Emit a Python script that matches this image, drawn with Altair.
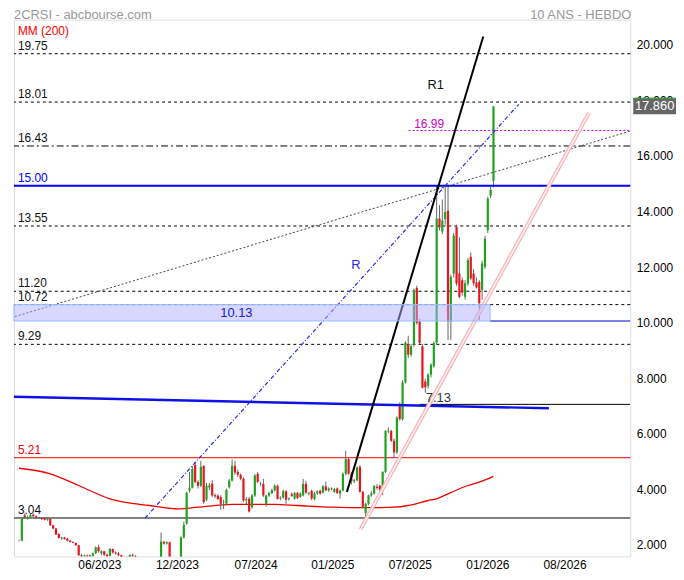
import altair as alt
import pandas as pd

FONT = "Liberation Sans"

# ---------------- data ----------------
first_week = "2022-11-28"          # date of candle k = 0 (weekly candles)

opens = [2.22, 2.22, 3.14, 3.02, 3.08, 3.16, 3.10, 3.04, 3.04, 3.04,
         2.98, 3.01, 2.78, 2.66, 2.46, 2.30, 2.34, 2.29, 2.22, 2.18,
         2.14, 2.06, 1.70, 1.66, 1.69, 1.65, 1.68, 1.78, 2.00, 1.76,
         1.84, 1.72, 1.68, 1.92, 1.80, 1.76, 1.70, 1.62, 1.58, 1.64,
         1.70, 1.66, 1.56, 1.48, 1.42, 1.40, 1.36, 1.32, 1.30, 1.28,
         1.36, 2.18, 2.12, 2.17, 1.55, 1.48, 1.52, 1.58, 2.34, 2.84,
         4.03, 4.13, 4.95, 4.34, 4.20, 4.91, 3.70, 4.14, 4.27, 3.86,
         3.84, 3.80, 3.58, 3.55, 4.15, 4.39, 4.92, 4.70, 4.60, 4.45,
         3.68, 3.73, 3.43, 3.85, 4.63, 4.28, 4.27, 3.55, 3.85, 3.94,
         4.03, 4.20, 3.74, 3.78, 4.00, 3.72, 3.90, 3.74, 3.94, 3.80,
         3.85, 4.27, 3.92, 4.02, 3.72, 3.92, 4.02, 3.96, 4.18, 4.04,
         4.10, 3.98, 4.10, 3.92, 4.03, 4.63, 5.16, 4.63, 4.36, 4.40,
         4.88, 3.98, 3.22, 3.55, 3.85, 3.92, 4.16, 4.20, 4.09, 4.70,
         6.15, 6.17, 5.82, 5.40, 7.06, 6.60, 7.92, 9.28, 8.92, 9.28,
         11.32, 10.11, 9.22, 7.96, 7.79, 8.20, 8.50, 9.35, 13.82, 13.35,
         13.80, 14.10, 10.11, 11.84, 13.51, 11.84, 11.60, 11.00, 11.48, 12.44,
         11.84, 11.52, 11.54, 11.25, 12.08, 13.40, 14.64, 15.18]
highs = [2.26, 3.06, 3.20, 3.12, 3.18, 3.20, 3.14, 3.08, 3.06, 3.06,
         3.03, 3.03, 2.80, 2.68, 2.50, 2.36, 2.36, 2.33, 2.25, 2.20,
         2.16, 2.08, 1.74, 1.72, 1.72, 1.72, 1.80, 2.02, 2.08, 1.88,
         1.86, 1.76, 1.96, 1.94, 1.84, 1.82, 1.72, 1.66, 1.66, 1.74,
         1.76, 1.70, 1.60, 1.52, 1.48, 1.46, 1.42, 1.38, 1.36, 1.40,
         2.52, 2.22, 2.20, 2.19, 1.60, 1.56, 1.62, 2.38, 2.90, 3.98,
         4.70, 4.92, 5.07, 4.40, 5.10, 4.95, 4.30, 4.30, 4.40, 3.92,
         3.90, 3.86, 3.70, 4.10, 4.45, 5.14, 5.10, 4.78, 4.64, 4.50,
         3.80, 3.80, 3.90, 4.62, 4.70, 4.34, 4.45, 3.88, 3.98, 4.10,
         4.25, 4.24, 3.82, 4.06, 4.04, 3.78, 3.96, 3.98, 3.98, 3.96,
         4.45, 4.38, 3.98, 4.06, 3.98, 4.04, 4.06, 4.22, 4.35, 4.14,
         4.14, 4.12, 4.14, 4.05, 4.68, 5.46, 5.22, 4.70, 4.44, 4.90,
         4.95, 4.02, 3.58, 3.88, 4.00, 4.22, 4.26, 4.24, 4.72, 6.20,
         6.30, 6.22, 5.90, 6.70, 7.20, 8.00, 9.40, 9.60, 9.30, 11.30,
         11.40, 10.20, 9.30, 8.05, 8.25, 8.60, 9.40, 15.00, 14.30, 14.50,
         15.00, 15.00, 11.80, 13.30, 13.60, 13.15, 11.70, 11.60, 12.40, 12.60,
         12.00, 11.70, 11.60, 12.30, 13.20, 14.60, 14.95, 17.86]
lows = [2.20, 2.20, 3.02, 2.98, 3.05, 3.08, 3.02, 3.00, 2.97, 2.95,
        2.94, 2.76, 2.64, 2.43, 2.30, 2.26, 2.26, 2.20, 2.16, 2.13,
        2.04, 1.68, 1.62, 1.60, 1.62, 1.60, 1.64, 1.74, 1.80, 1.70,
        1.68, 1.62, 1.66, 1.76, 1.72, 1.66, 1.58, 1.54, 1.52, 1.60,
        1.62, 1.52, 1.44, 1.38, 1.34, 1.32, 1.28, 1.26, 1.24, 1.24,
        1.34, 2.08, 2.08, 1.50, 1.42, 1.40, 1.46, 1.56, 2.30, 2.80,
        3.95, 4.10, 4.30, 4.10, 4.15, 3.55, 3.65, 4.05, 3.80, 3.76,
        3.68, 3.34, 3.36, 3.50, 4.10, 4.35, 4.60, 4.52, 4.40, 3.62,
        3.50, 3.24, 3.38, 3.80, 4.30, 4.20, 3.80, 3.45, 3.80, 3.90,
        4.00, 3.70, 3.68, 3.74, 3.55, 3.66, 3.80, 3.70, 3.72, 3.76,
        3.82, 3.90, 3.86, 3.68, 3.68, 3.88, 3.88, 3.92, 4.00, 3.98,
        4.04, 3.94, 3.90, 3.74, 4.00, 4.58, 4.60, 4.25, 4.30, 4.36,
        3.95, 3.40, 3.08, 3.50, 3.80, 3.88, 4.06, 4.00, 3.86, 4.66,
        6.10, 5.78, 5.22, 5.35, 6.55, 6.55, 7.88, 8.80, 8.85, 9.20,
        10.00, 9.30, 7.70, 7.55, 7.70, 8.10, 8.45, 9.30, 13.40, 13.25,
        13.60, 9.45, 9.45, 11.70, 11.40, 10.95, 11.05, 10.90, 11.40, 11.60,
        11.40, 11.30, 10.17, 10.90, 12.00, 13.30, 14.55, 14.94]
closes = [2.22, 3.04, 3.08, 3.07, 3.15, 3.10, 3.05, 3.04, 3.00, 2.98,
          3.01, 2.78, 2.66, 2.45, 2.32, 2.34, 2.28, 2.22, 2.18, 2.15,
          2.06, 1.70, 1.66, 1.69, 1.65, 1.70, 1.77, 1.98, 1.84, 1.84,
          1.72, 1.66, 1.92, 1.80, 1.76, 1.70, 1.62, 1.58, 1.64, 1.70,
          1.66, 1.56, 1.48, 1.42, 1.40, 1.36, 1.32, 1.30, 1.28, 1.36,
          2.19, 2.12, 2.17, 1.55, 1.48, 1.52, 1.58, 2.34, 2.80, 3.95,
          4.13, 4.81, 4.34, 4.20, 4.88, 3.62, 4.20, 4.22, 3.85, 3.82,
          3.72, 3.55, 3.60, 4.05, 4.39, 4.92, 4.68, 4.60, 4.45, 3.67,
          3.72, 3.27, 3.85, 4.57, 4.34, 4.27, 3.85, 3.85, 3.94, 4.04,
          4.20, 3.73, 3.77, 4.00, 3.70, 3.75, 3.84, 3.94, 3.76, 3.92,
          4.27, 3.96, 3.95, 3.74, 3.92, 4.00, 3.92, 4.18, 4.04, 4.10,
          4.08, 4.08, 3.94, 4.03, 4.63, 5.16, 4.63, 4.36, 4.40, 4.86,
          3.98, 3.45, 3.55, 3.85, 3.92, 4.20, 4.12, 4.06, 4.70, 6.17,
          6.18, 5.82, 5.40, 6.65, 6.60, 7.92, 9.35, 8.92, 9.22, 11.24,
          10.06, 9.34, 7.73, 7.74, 8.20, 8.56, 9.34, 13.82, 13.50, 13.75,
          14.05, 10.11, 11.72, 13.21, 11.48, 11.00, 11.15, 11.49, 12.32, 11.66,
          11.49, 11.34, 10.77, 12.20, 13.10, 14.53, 14.85, 17.86]

# 200-week moving average (week index, value)
mm_week = [0, 11, 21, 32, 46, 56, 63, 75, 90, 98, 110, 122, 132, 137, 144, 147, 151, 158, 162, 167]
mm_value = [4.83, 4.63, 4.21, 3.73, 3.49, 3.37, 3.43, 3.53, 3.53, 3.49,
            3.43, 3.41, 3.43, 3.49, 3.67, 3.73, 3.91, 4.21, 4.33, 4.54]

axis_dates = ["2023-06-14", "2023-12-22", "2024-07-03", "2025-01-08",
              "2025-07-18", "2026-01-25", "2026-08-03"]
price_ticks = [2, 4, 6, 8, 10, 12, 14, 16, 18, 20]
view_weeks = [-1.78, 215.15]
price_domain = [1.657, 20.977]

# horizontal levels
level_values = [19.75, 18.01, 16.43, 15.00, 13.55, 11.20, 10.72, 9.29, 5.21, 3.04]
level_texts = ["19.75", "18.01", "16.43", "15.00", "13.55", "11.20", "10.72", "9.29", "5.21", "3.04"]
level_colors = ["#111111", "#111111", "#111111", "#0000ee", "#111111", "#111111",
                "#111111", "#111111", "#ee0000", "#111111"]
dashed_levels = [19.75, 18.01, 13.55, 11.20, 10.72, 9.29]
dashdot_levels = [16.43]
blue_levels = [15.00]
red_levels = [5.21]
black_levels = [3.04]

# partial levels: (start week, price)
magenta_level = (137.1, 16.99)
support_level = (141.0, 7.13)
zone_line = (165.8, 10.13)
zone = (-1.8, 165.8, 10.13, 10.72)

# trend lines: (week1, price1, week2, price2)
r1_line = (115.4, 3.98, 163.4, 20.37)
r_line = (44.4, 3.04, 175.9, 17.93)
gray_line = (-1.43, 10.29, 215.2, 16.97)
pink_line = (120.2, 2.63, 200.6, 17.62)
blue_slope = (-1.8, 7.40, 186.5, 6.99)

last_price = 17.86

# ---------------- helpers ----------------
DAY = 86400000
T0 = pd.Timestamp(first_week).value // 10**6


def wk(k):
    return T0 + k * 7 * DAY


xscale = alt.Scale(type="utc", domain=[wk(view_weeks[0]), wk(view_weeks[1])], nice=False)
yscale = alt.Scale(domain=price_domain, nice=False, zero=False)
xaxis = alt.Axis(values=[pd.Timestamp(d).value // 10**6 for d in axis_dates], format="%m/%Y",
                 labelFont=FONT, labelFontSize=12, labelColor="#000", ticks=False, domain=False,
                 grid=False, labelPadding=3, title=None, labelFlush=False, labelOverlap=False)
yaxis = alt.Axis(orient="right", values=price_ticks, format=".3f", labelFont=FONT, labelFontSize=12,
                 labelColor="#000", ticks=False, domain=False, grid=False, labelPadding=6,
                 labelOffset=-2, title=None)


def X(f):
    return alt.X(f, type="temporal", scale=xscale, axis=xaxis)


def X2(f):
    return alt.X2(f)


def Y(f):
    return alt.Y(f, type="quantitative", scale=yscale, axis=yaxis)


def Y2(f):
    return alt.Y2(f)


def seg_df(s):
    return pd.DataFrame({"x": [wk(s[0])], "y": [s[1]], "x2": [wk(s[2])], "y2": [s[3]]})


def seg(s, **kw):
    return alt.Chart(seg_df(s)).mark_rule(clip=True, **kw).encode(
        x=X("x"), x2=X2("x2"), y=Y("y"), y2=Y2("y2"))


def hlines(vals, **kw):
    return alt.Chart(pd.DataFrame({"v": vals})).mark_rule(**kw).encode(y=Y("v"))


# ---------------- layers ----------------
n = len(opens)
candles = pd.DataFrame({"date": [wk(k) for k in range(n)], "open": opens, "high": highs,
                        "low": lows, "close": closes})
candles["col"] = ["#1fa31f" if c > o else ("#e8141b" if c < o else "#777777")
                  for o, c in zip(opens, closes)]

wicks = alt.Chart(candles).mark_rule(color="#666666", strokeWidth=1, clip=True).encode(
    x=X("date"), y=Y("low"), y2=Y2("high"))
bodies = alt.Chart(candles).mark_rule(strokeWidth=2.2, clip=True).encode(
    x=X("date"), y=Y("open"), y2=Y2("close"), color=alt.Color("col:N", scale=None))

mm_df = pd.DataFrame({"date": [wk(k) for k in mm_week], "v": mm_value})
mm = alt.Chart(mm_df).mark_line(color="#ee0000", strokeWidth=1.3, interpolate="monotone").encode(
    x=X("date"), y=Y("v"))

dashed = hlines(dashed_levels, color="#000000", strokeWidth=1, strokeDash=[3, 3])
dashdot = hlines(dashdot_levels, color="#000000", strokeWidth=1, strokeDash=[7, 3, 2, 3])
blue_h = hlines(blue_levels, color="#0000ee", strokeWidth=2)
red_h = hlines(red_levels, color="#ee0000", strokeWidth=1)
black_h = hlines(black_levels, color="#000000", strokeWidth=1)

magenta = seg((magenta_level[0], magenta_level[1], view_weeks[1], magenta_level[1]),
              color="#cc00cc", strokeWidth=1, strokeDash=[2, 2])
support = seg((support_level[0], support_level[1], view_weeks[1], support_level[1]),
              color="#000000", strokeWidth=1)
zline = seg((zone_line[0], zone_line[1], view_weeks[1], zone_line[1]), color="#0000cc", strokeWidth=1)

zone_df = pd.DataFrame({"x": [wk(zone[0])], "x2": [wk(zone[1])], "y": [zone[2]], "y2": [zone[3]]})
zone_rect = alt.Chart(zone_df).mark_rect(fill="#b0b0ff", fillOpacity=0.5, stroke="#99bbff",
                                         strokeWidth=1).encode(
    x=X("x"), x2=X2("x2"), y=Y("y"), y2=Y2("y2"))

gray_t = seg(gray_line, color="#444444", strokeWidth=1, strokeDash=[2, 2])
r_t = seg(r_line, color="#2a2aee", strokeWidth=1.2, strokeDash=[4, 2, 1, 2])
blue_t = seg(blue_slope, color="#1010e8", strokeWidth=2.5)
pink_a = seg(pink_line, color="#f6b3b3", strokeWidth=4)
pink_b = seg(pink_line, color="#fff0f0", strokeWidth=1.6)
r1_t = seg(r1_line, color="#000000", strokeWidth=2)

lvl_df = pd.DataFrame({"v": level_values, "t": level_texts, "c": level_colors})
lvl_text = alt.Chart(lvl_df).mark_text(align="left", baseline="middle", font=FONT, fontSize=12,
                                       dy=-8).encode(
    x=alt.value(4), y=Y("v"), text="t:N", color=alt.Color("c:N", scale=None))


def label(week, price, text, color, size=12, align="left"):
    df = pd.DataFrame({"x": [wk(week)], "y": [price], "t": [text]})
    return alt.Chart(df).mark_text(align=align, baseline="middle", font=FONT, fontSize=size,
                                   color=color).encode(x=X("x"), y=Y("y"), text="t:N")


lab_1699 = label(139.1, 17.23, "16.99", "#cc00cc")
lab_713 = label(143.2, 7.37, "7.13", "#333333", 13)
lab_r1 = label(146.7, 18.62, "R1", "#111111", 13, "center")
lab_r = label(118.6, 12.14, "R", "#2a2aee", 13, "center")
lab_1013 = label(76.5, 10.40, "10.13", "#2020cc", 13, "center")

top_df = pd.DataFrame({"t": ["2CRSI - abcbourse.com"]})
top_left = alt.Chart(top_df).mark_text(align="left", baseline="middle", font=FONT, fontSize=13,
                                       color="#999999").encode(
    x=alt.value(0), y=alt.value(-5), text="t:N")
top_right = alt.Chart(pd.DataFrame({"t": ["10 ANS - HEBDO"]})).mark_text(
    align="right", baseline="middle", font=FONT, fontSize=13, color="#999999").encode(
    x=alt.value(621), y=alt.value(-5), text="t:N")
mm_label = alt.Chart(pd.DataFrame({"t": ["MM (200)"]})).mark_text(
    align="left", baseline="middle", font=FONT, fontSize=12, color="#ff0000").encode(
    x=alt.value(4), y=alt.value(11), text="t:N")

box_df = pd.DataFrame({"v": [last_price], "lo": [last_price - 0.29], "hi": [last_price + 0.29],
                       "t": ["%.3f" % last_price]})
price_box = alt.Chart(box_df).mark_rect(fill="#666666").encode(
    x=alt.value(623), x2=alt.value(666), y=Y("lo"), y2=Y2("hi"))
price_top = alt.Chart(box_df).mark_rule(color="#1fa31f", strokeWidth=1).encode(
    x=alt.value(623), x2=alt.value(666), y=Y("hi"))
price_txt = alt.Chart(box_df).mark_text(align="center", baseline="middle", font=FONT, fontSize=13,
                                        color="#ffffff").encode(
    x=alt.value(644.5), y=Y("v"), text="t:N")

chart = alt.layer(
    dashed, dashdot, red_h, black_h, mm,
    wicks, bodies,
    blue_h, magenta, support, zline, gray_t, r_t, blue_t, pink_a, pink_b, r1_t,
    zone_rect,
    lvl_text, lab_1699, lab_713, lab_r1, lab_r, lab_1013,
    top_left, top_right, mm_label,
    price_box, price_top, price_txt,
).properties(
    width=620, height=540, autosize="none",
    padding={"left": 6, "top": 10, "right": 46, "bottom": 20},
).configure_view(stroke=None).configure(font=FONT)

chart.save("out.html", embed_options={"renderer": "svg", "actions": False})
